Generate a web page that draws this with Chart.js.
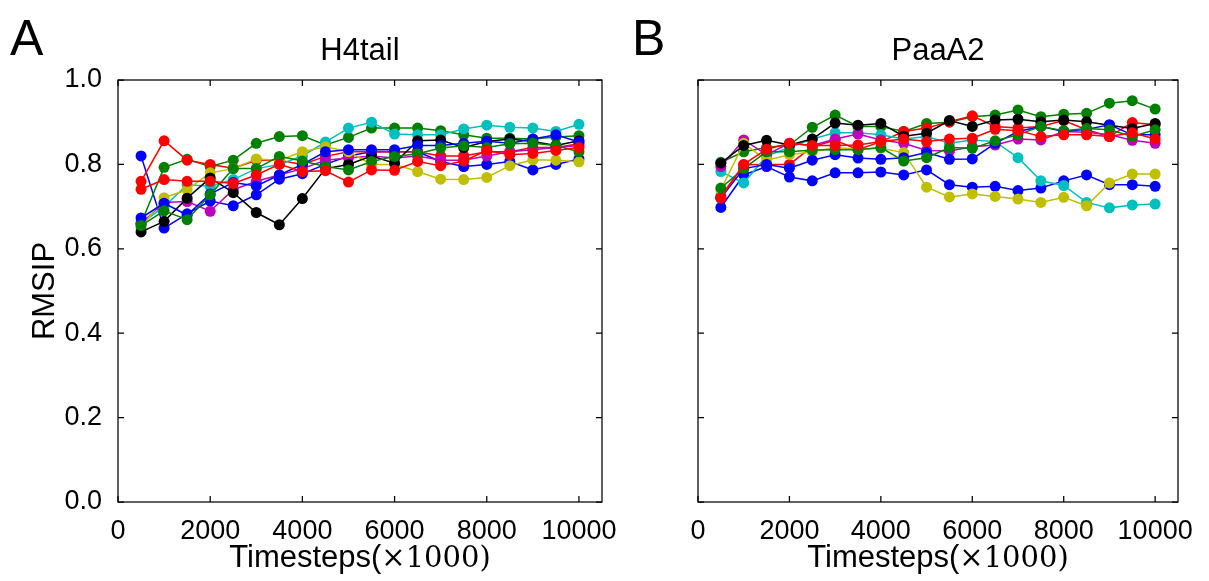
<!DOCTYPE html>
<html lang="en">
<head>
<meta charset="UTF-8">
<title>RMSIP vs timesteps</title>
<script src="https://cdn.jsdelivr.net/npm/chart.js"></script>
<style>
  body { margin: 0; background: #fff; }
  .panel { position: absolute; top: 0; }
</style>
</head>
<body>

<!-- two panels side by side -->
<div class="panel" style="left:0;width:645px;height:581px"><canvas id="chartA" width="645" height="581"></canvas></div>
<div class="panel" style="left:580px;width:629px;height:581px"><canvas id="chartB" width="629" height="581"></canvas></div>

<script>
const timesteps = [500, 1000, 1500, 2000, 2500, 3000, 3500, 4000, 4500, 5000,
                   5500, 6000, 6500, 7000, 7500, 8000, 8500, 9000, 9500, 10000];
const xTicks = [0, 2000, 4000, 6000, 8000, 10000];
const yTicks = [0, 0.2, 0.4, 0.6, 0.8, 1.0];

// matplotlib classic colour cycle b g r c m y k
const seriesColors = ['#0000ff', '#008000', '#ff0000', '#00bfbf', '#bf00bf', '#bfbf00', '#000000', '#0000ff', '#008000', '#ff0000'];

// H4tail
const h4Blue1   = [0.82, 0.649, 0.683, 0.713, 0.702, 0.728, 0.765, 0.778, 0.80, 0.82, 0.83, 0.83, 0.83, 0.807, 0.795, 0.80, 0.807, 0.787, 0.80, 0.813];
const h4Green1  = [0.66, 0.793, 0.812, 0.795, 0.81, 0.85, 0.866, 0.868, 0.846, 0.864, 0.886, 0.886, 0.886, 0.88, 0.87, 0.862, 0.862, 0.86, 0.865, 0.868];
const h4Red1    = [0.76, 0.856, 0.81, 0.80, 0.791, 0.81, 0.81, 0.80, 0.819, 0.83, 0.83, 0.83, 0.83, 0.82, 0.82, 0.83, 0.83, 0.84, 0.84, 0.849];
const h4Cyan    = [0.66, 0.70, 0.752, 0.748, 0.764, 0.79, 0.80, 0.82, 0.853, 0.886, 0.90, 0.872, 0.87, 0.87, 0.884, 0.893, 0.888, 0.886, 0.878, 0.895];
const h4Magenta = [0.66, 0.71, 0.712, 0.689, 0.74, 0.76, 0.775, 0.79, 0.81, 0.815, 0.82, 0.815, 0.82, 0.81, 0.81, 0.82, 0.83, 0.835, 0.84, 0.845];
const h4Yellow  = [0.65, 0.721, 0.74, 0.78, 0.79, 0.813, 0.81, 0.83, 0.842, 0.83, 0.80, 0.80, 0.783, 0.765, 0.764, 0.769, 0.797, 0.811, 0.81, 0.806];
const h4Black   = [0.64, 0.665, 0.72, 0.768, 0.733, 0.686, 0.657, 0.719, 0.79, 0.80, 0.82, 0.803, 0.856, 0.858, 0.84, 0.854, 0.86, 0.854, 0.845, 0.856];
const h4Blue2   = [0.673, 0.708, 0.68, 0.73, 0.757, 0.749, 0.775, 0.80, 0.83, 0.835, 0.835, 0.835, 0.845, 0.845, 0.85, 0.855, 0.85, 0.86, 0.87, 0.853];
const h4Green2  = [0.655, 0.69, 0.669, 0.728, 0.79, 0.79, 0.819, 0.808, 0.795, 0.787, 0.807, 0.819, 0.825, 0.839, 0.844, 0.84, 0.849, 0.85, 0.845, 0.83];
const h4Red2    = [0.741, 0.764, 0.76, 0.76, 0.755, 0.775, 0.80, 0.783, 0.785, 0.758, 0.787, 0.786, 0.807, 0.797, 0.808, 0.833, 0.823, 0.826, 0.833, 0.84];

// PaaA2
const paBlue1   = [0.698, 0.775, 0.795, 0.77, 0.761, 0.78, 0.78, 0.782, 0.775, 0.787, 0.752, 0.746, 0.748, 0.738, 0.744, 0.761, 0.775, 0.752, 0.752, 0.748];
const paGreen1  = [0.805, 0.83, 0.84, 0.846, 0.888, 0.917, 0.89, 0.89, 0.878, 0.897, 0.90, 0.913, 0.917, 0.929, 0.913, 0.919, 0.921, 0.945, 0.951, 0.931];
const paRed1    = [0.724, 0.799, 0.80, 0.80, 0.842, 0.857, 0.835, 0.854, 0.878, 0.886, 0.901, 0.915, 0.89, 0.886, 0.89, 0.904, 0.882, 0.866, 0.899, 0.894];
const paCyan    = [0.783, 0.756, 0.82, 0.84, 0.86, 0.875, 0.875, 0.87, 0.86, 0.866, 0.85, 0.858, 0.854, 0.816, 0.761, 0.75, 0.71, 0.697, 0.704, 0.706];
const paMagenta = [0.795, 0.858, 0.823, 0.85, 0.845, 0.86, 0.872, 0.858, 0.85, 0.833, 0.832, 0.842, 0.846, 0.86, 0.858, 0.878, 0.876, 0.87, 0.857, 0.85];
const paYellow  = [0.74, 0.85, 0.81, 0.823, 0.83, 0.84, 0.836, 0.838, 0.828, 0.746, 0.723, 0.73, 0.724, 0.718, 0.71, 0.722, 0.702, 0.756, 0.777, 0.777];
const paBlack   = [0.803, 0.845, 0.857, 0.846, 0.86, 0.898, 0.893, 0.897, 0.867, 0.874, 0.904, 0.89, 0.905, 0.907, 0.901, 0.905, 0.901, 0.893, 0.885, 0.897];
const paBlue2   = [0.72, 0.79, 0.80, 0.791, 0.81, 0.823, 0.815, 0.812, 0.816, 0.828, 0.812, 0.813, 0.85, 0.878, 0.89, 0.878, 0.883, 0.894, 0.87, 0.87];
const paGreen2  = [0.744, 0.79, 0.83, 0.83, 0.834, 0.835, 0.835, 0.84, 0.808, 0.816, 0.84, 0.838, 0.856, 0.87, 0.89, 0.88, 0.885, 0.882, 0.866, 0.882];
const paRed2    = [0.72, 0.80, 0.836, 0.85, 0.845, 0.845, 0.846, 0.854, 0.86, 0.854, 0.86, 0.862, 0.883, 0.88, 0.866, 0.87, 0.87, 0.866, 0.875, 0.86];

const h4Series = [h4Blue1, h4Green1, h4Red1, h4Cyan, h4Magenta, h4Yellow, h4Black, h4Blue2, h4Green2, h4Red2];
const paSeries = [paBlue1, paGreen1, paRed1, paCyan, paMagenta, paYellow, paBlack, paBlue2, paGreen2, paRed2];

const SANS = '"Liberation Sans", Arial, sans-serif';
const SERIF = '"DejaVu Serif", "Liberation Serif", serif';

// frame, inside ticks on all four sides, titles and labels
const panelDeco = {
  id: 'panelDeco',
  afterDraw(chart, args, opts) {
    const ctx = chart.ctx;
    const a = chart.chartArea;
    const xs = chart.scales.x, ys = chart.scales.y;
    const tl = 6;
    ctx.save();
    ctx.strokeStyle = '#000';
    ctx.lineWidth = 1.25;
    ctx.beginPath();
    xTicks.forEach(v => {
      const px = xs.getPixelForValue(v);
      ctx.moveTo(px, a.bottom); ctx.lineTo(px, a.bottom - tl);
      ctx.moveTo(px, a.top); ctx.lineTo(px, a.top + tl);
    });
    yTicks.forEach(v => {
      const py = ys.getPixelForValue(v);
      ctx.moveTo(a.left, py); ctx.lineTo(a.left + tl, py);
      ctx.moveTo(a.right, py); ctx.lineTo(a.right - tl, py);
    });
    ctx.stroke();
    ctx.strokeRect(a.left, a.top, a.right - a.left, a.bottom - a.top);

    ctx.fillStyle = '#000';
    // panel letter
    ctx.font = '50px ' + SANS;
    ctx.textAlign = 'left';
    ctx.textBaseline = 'alphabetic';
    ctx.fillText(opts.letter, opts.letterX, 55);
    // title
    ctx.font = '31px ' + SANS;
    ctx.textAlign = 'center';
    ctx.fillText(opts.title, (a.left + a.right) / 2, 60);
    // x axis title, mixed fonts like mathtext
    const partA = 'Timesteps(', partB = '\u00d71000)';
    ctx.font = '31px ' + SANS;
    const wA = ctx.measureText(partA).width;
    ctx.font = '29px ' + SERIF;
    const wB = ctx.measureText(partB).width;
    const x0 = (a.left + a.right) / 2 - (wA + wB) / 2;
    ctx.textAlign = 'left';
    ctx.font = '31px ' + SANS;
    ctx.fillText(partA, x0, 567);
    ctx.font = '29px ' + SERIF;
    ctx.fillText(partB, x0 + wA, 567);
    // y axis title
    if (opts.yTitle) {
      ctx.translate(54, (a.top + a.bottom) / 2);
      ctx.rotate(-Math.PI / 2);
      ctx.textAlign = 'center';
      ctx.font = '31px ' + SANS;
      ctx.fillText(opts.yTitle, 0, 0);
    }
    ctx.restore();
  }
};

function makeChart(id, series, deco, padRight, showYLabels) {
  return new Chart(document.getElementById(id), {
    type: 'line',
    data: {
      datasets: series.map((vals, i) => ({
        data: vals.map((v, j) => ({ x: timesteps[j], y: v })),
        borderColor: seriesColors[i],
        backgroundColor: seriesColors[i],
        borderWidth: 1.5,
        pointRadius: 5.5,
        pointHoverRadius: 5.5,
        pointBorderWidth: 0,
        tension: 0,
        order: series.length - i
      }))
    },
    options: {
      responsive: false,
      animation: false,
      events: [],
      layout: { padding: { top: 80, right: padRight, left: 0, bottom: 0 } },
      plugins: {
        legend: { display: false },
        tooltip: { enabled: false },
        panelDeco: deco
      },
      scales: {
        x: {
          type: 'linear', min: 0, max: 10500,
          afterBuildTicks: s => { s.ticks = xTicks.map(v => ({ value: v })); },
          afterFit: s => { s.height = 79; },
          grid: { display: false },
          border: { display: false },
          ticks: { padding: 5, color: '#000', font: { family: SANS, size: 27 }, maxRotation: 0, callback: v => String(v) }
        },
        y: {
          min: 0, max: 1,
          afterBuildTicks: s => { s.ticks = yTicks.map(v => ({ value: v })); },
          afterFit: s => { s.width = 118; },
          grid: { display: false },
          border: { display: false },
          ticks: { display: showYLabels, padding: 8, color: '#000', font: { family: SANS, size: 27 }, callback: v => v.toFixed(1) }
        }
      }
    },
    plugins: [panelDeco]
  });
}

makeChart('chartA', h4Series, { letter: 'A', letterX: 10, title: 'H4tail', yTitle: 'RMSIP' }, 43, true);
makeChart('chartB', paSeries, { letter: 'B', letterX: 52, title: 'PaaA2', yTitle: '' }, 31, false);
</script>
</body>
</html>
